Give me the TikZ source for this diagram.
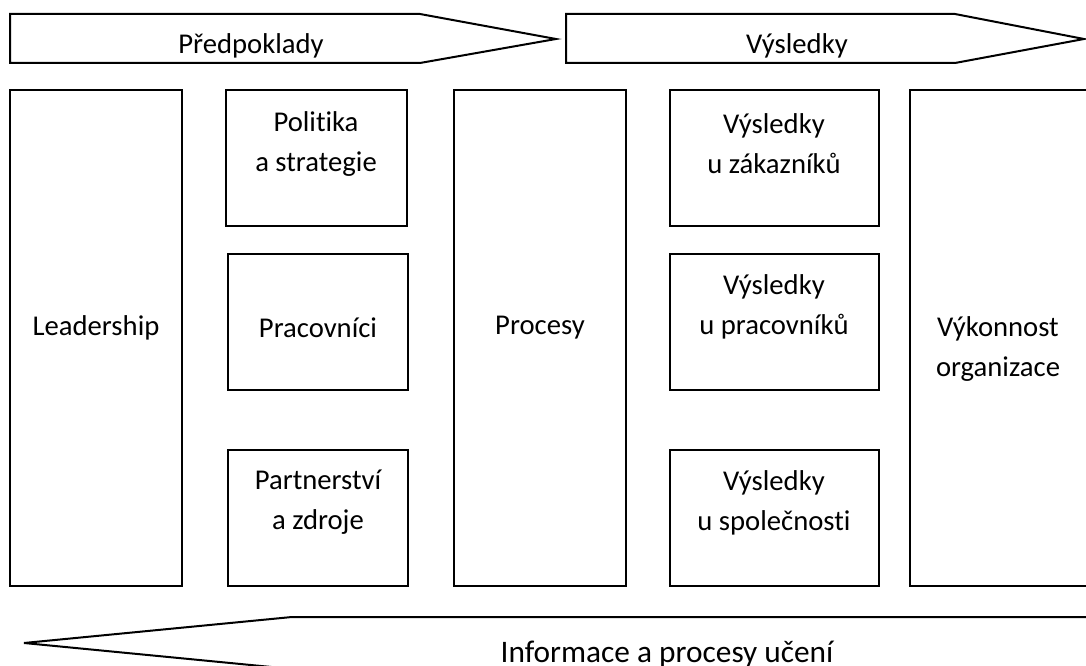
\documentclass[tikz,border=0pt]{standalone}
\usepackage{fontspec}
\setmainfont{Carlito}[Ligatures=NoCommon]
\begin{document}
\begin{tikzpicture}[x=0.75pt,y=-0.75pt,
  outline/.style={draw=black,line width=1.5pt,line join=miter,fill=white},
  lbl/.style={align=center,inner sep=0pt,font=\fontsize{21.5}{30}\selectfont}]
\useasboundingbox (0,0) rectangle (1086,666);
\clip (0,0) rectangle (1086,666);

% top chevrons
\draw[outline] (10,14) -- (420,14) -- (556,39) -- (420,63) -- (10,63) -- cycle;
\draw[outline] (566,14) -- (955,14) -- (1084,39) -- (955,63) -- (566,63) -- cycle;
\begin{scope}
  \clip (10,14) rectangle (1086,57.5);
  \node[lbl,anchor=base] (pred) at (251,54) {Předpoklady};
  \node[lbl,anchor=base] (vysl) at (797,54) {Výsledky};
\end{scope}

% bottom arrow pointing left
\draw[outline] (1100,617) -- (292,617) -- (24,643) -- (292,669) -- (1100,669) -- cycle;
\node[lbl,font=\fontsize{23.5}{30}\selectfont,anchor=base] (info) at (667,662) {Informace a procesy učení};

% columns of boxes
\draw[outline] (10,90) rectangle (182,586);
\draw[outline] (226,90) rectangle (407,226);
\draw[outline] (228,254) rectangle (408,390);
\draw[outline] (228,450) rectangle (408,586);
\draw[outline] (454,90) rectangle (626,586);
\draw[outline] (670,90) rectangle (879,226);
\draw[outline] (670,254) rectangle (879,390);
\draw[outline] (670,450) rectangle (879,586);
\draw[outline] (910,90) rectangle (1092,586);

\node[lbl] (lead) at (96,328) {Leadership};
\node[lbl] (pol) at (316,144) {Politika\\a strategie};
\node[lbl] (prac) at (318,328) {Pracovníci};
\node[lbl] (part) at (318,502) {Partnerství\\a zdroje};
\node[lbl] (proc) at (540,328) {Procesy};
\node[lbl] (vzak) at (774,144) {Výsledky\\u zákazníků};
\node[lbl] (vpra) at (774,307) {Výsledky\\u pracovníků};
\node[lbl] (vspo) at (774,503) {Výsledky\\u společnosti};
\node[lbl] (vyk) at (998,349) {Výkonnost\\organizace};
\end{tikzpicture}
\end{document}
